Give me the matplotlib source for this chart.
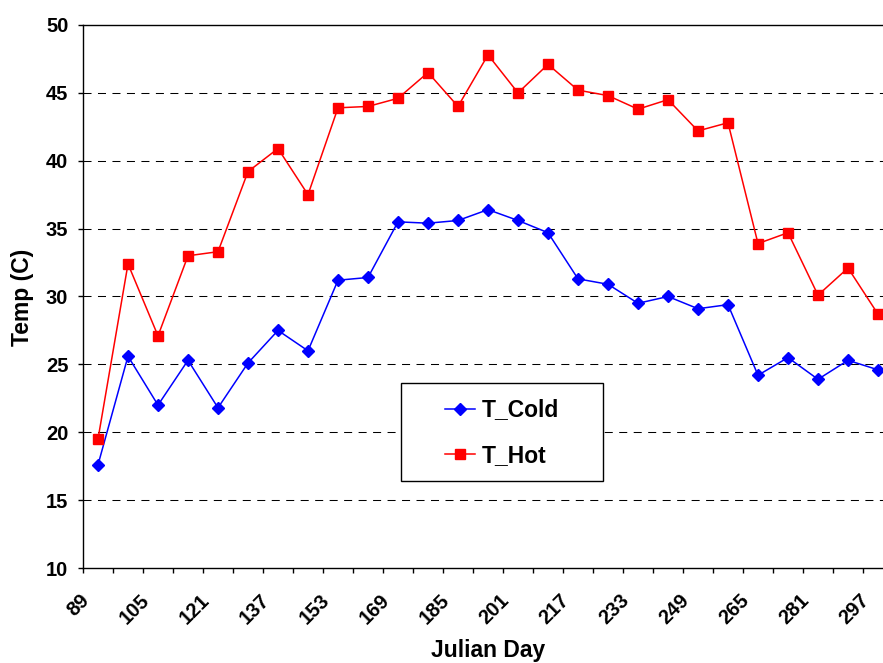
import matplotlib
matplotlib.use("Agg")
import matplotlib.pyplot as plt
from matplotlib.patches import Rectangle
from matplotlib.lines import Line2D
import matplotlib.transforms as mtransforms

plt.rcParams['font.family'] = ['Liberation Sans', 'DejaVu Sans']

# Julian day categories (every 8 days)
days = [89, 97, 105, 113, 121, 129, 137, 145, 153, 161, 169, 177, 185, 193,
        201, 209, 217, 225, 233, 241, 249, 257, 265, 273, 281, 289, 297]

t_cold = [17.6, 25.6, 22.0, 25.3, 21.8, 25.1, 27.5, 26.0, 31.2, 31.4, 35.5,
          35.4, 35.6, 36.4, 35.6, 34.7, 31.3, 30.9, 29.5, 30.0, 29.1, 29.4,
          24.2, 25.5, 23.9, 25.3, 24.6]

t_hot = [19.5, 32.4, 27.1, 33.0, 33.3, 39.2, 40.9, 37.5, 43.9, 44.0, 44.6,
         46.5, 44.0, 47.8, 45.0, 47.1, 45.2, 44.8, 43.8, 44.5, 42.2, 42.8,
         33.9, 34.7, 30.1, 32.1, 28.7]

W, H = 883, 663
fig = plt.figure(figsize=(W / 100, H / 100), dpi=100)

# plot area: left edge at x=83, top y=25, bottom y=568; right side runs past the image edge
ax = fig.add_axes([83 / W, 1 - 568 / H, (893 - 83) / W, 543 / H])

xs = list(range(len(days)))
ax.plot(xs, t_cold, color='#0000FF', lw=1.1, marker='D', ms=6,
        mec='#0000FF', mfc='#0000FF', zorder=3)
ax.plot(xs, t_hot, color='#FF0000', lw=1.1, marker='s', ms=7,
        mec='#FF0000', mfc='#FF0000', zorder=4)

ax.set_xlim(-0.5, len(days) - 0.5)
ax.set_ylim(10, 50)

# horizontal dashed grid
for yv in range(15, 50, 5):
    ax.axhline(yv, color='black', lw=0.75, ls=(0, (7.7, 6.2)), zorder=1)

ax.set_yticks(range(10, 51, 5))
ax.tick_params(axis='y', direction='out', length=3.6, width=1, pad=7,
               labelsize=14.5)

# category boundaries get tick marks, every other category gets a label
ax.set_xticks([i - 0.5 for i in range(len(days) + 1)], minor=True)
ax.set_xticks(xs[::2])
ax.set_xticklabels([str(d) for d in days[::2]], rotation=45, ha='right')
ax.tick_params(axis='x', which='minor', direction='out', length=3.6, width=1)
ax.tick_params(axis='x', which='major', length=0, pad=16, labelsize=14.5)

offset = mtransforms.ScaledTranslation(-5 / 100, 0, fig.dpi_scale_trans)
for lab in ax.get_xticklabels():
    lab.set_transform(lab.get_transform() + offset)

for lab in ax.get_xticklabels() + ax.get_yticklabels():
    lab.set_fontweight('bold')

for side in ['left', 'bottom', 'top']:
    ax.spines[side].set_color('black')
    ax.spines[side].set_linewidth(1.0)
ax.spines['right'].set_visible(False)

fig.text(488 / W, 1 - 651 / H, 'Julian Day', fontsize=16.5, fontweight='bold',
         ha='center', va='center')
fig.text(22 / W, 1 - 297 / H, 'Temp (C)', fontsize=16.5, fontweight='bold',
         ha='center', va='center', rotation=90)

# legend box
fig.patches.append(Rectangle((401 / W, 1 - 481 / H), 202 / W, 98 / H,
                             transform=fig.transFigure, fill=True,
                             facecolor='white', edgecolor='black', lw=1.0,
                             zorder=5))
handles = [Line2D([], [], color='#0000FF', lw=1.1, marker='D', ms=6),
           Line2D([], [], color='#FF0000', lw=1.1, marker='s', ms=7)]
leg = fig.legend(handles, ['T_Cold', 'T_Hot'], loc='center',
                 bbox_to_anchor=(502 / W, 1 - 433 / H), frameon=False,
                 prop={'size': 16.5, 'weight': 'bold'}, handlelength=1.3,
                 handletextpad=0.3, labelspacing=1.0, borderpad=0)
leg.set_zorder(6)

fig.savefig('out.png', dpi=100)
